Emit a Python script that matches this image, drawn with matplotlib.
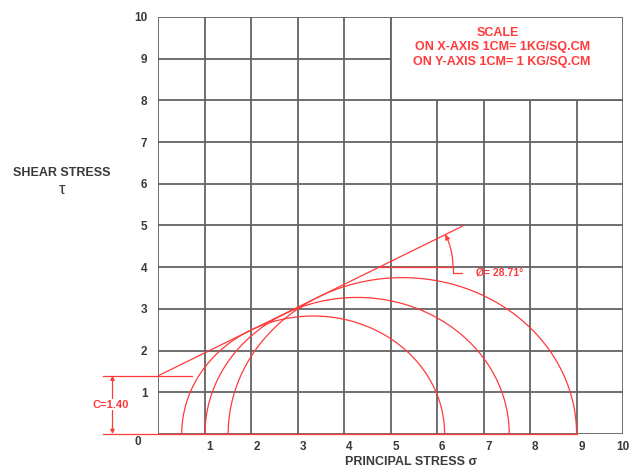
import numpy as np
import matplotlib
matplotlib.use('Agg')
import matplotlib.pyplot as plt
from matplotlib.patches import Rectangle
import matplotlib.transforms as mtrans

plt.rcParams['font.family'] = ['Liberation Sans', 'DejaVu Sans']

# Mohr circle data
sigma3 = [0.5, 1.0, 1.5]      # minor principal stress
sigma1 = [6.16, 7.55, 9.0]    # major principal stress
c = 1.40                      # cohesion
phi = 28.71                   # angle of shearing resistance (deg)
x_ticks = list(range(1, 11))
y_ticks = list(range(1, 11))

red = '#ff3a3a'
grey = '#636363'
txt = '#3a3a3a'

fig = plt.figure(figsize=(6.36, 4.69), dpi=100)
ax = fig.add_axes([0.2492, 0.0746, 0.7304, 0.8892])
ax.set_xlim(0, 10)
ax.set_ylim(0, 10)

# grid
for v in range(0, 11):
    ax.axvline(v, color=grey, lw=1.3, zorder=1)
    ax.axhline(v, color=grey, lw=1.3, zorder=1)
for s in ax.spines.values():
    s.set_visible(False)

# tick labels
ax.set_xticks(x_ticks)
ax.set_yticks(y_ticks)
ax.set_xticklabels([str(t) for t in x_ticks], fontsize=8.5, fontweight='bold', color=txt)
ax.set_yticklabels([str(t) for t in y_ticks], fontsize=8.5, fontweight='bold', color=txt)
ax.tick_params(length=0, pad=5)
ax.tick_params(axis='y', pad=8)
off = mtrans.ScaledTranslation(5 / 100, 0, fig.dpi_scale_trans)
for lab in ax.get_xticklabels()[:-1]:
    lab.set_transform(lab.get_transform() + off)
ax.text(-0.45, -0.2, '0', fontsize=8.5, fontweight='bold', color=txt,
        ha='center', va='center', clip_on=False)

# Mohr circles
t = np.linspace(0, np.pi, 300)
for s3, s1 in zip(sigma3, sigma1):
    cen = (s1 + s3) / 2
    rad = (s1 - s3) / 2
    ax.plot(cen + rad * np.cos(t), rad * np.sin(t), color=red, lw=0.9, zorder=3)

# failure envelope
tanp = np.tan(np.radians(phi))
xe = np.array([0, 6.55])
ax.plot(xe, c + tanp * xe, color=red, lw=0.9, zorder=3)

# angle marker
x0 = (4 - c) / tanp
ax.plot([x0, 6.34], [4, 4], color=red, lw=0.9, zorder=3)
r_px = 74.0
sx = ax.transData.transform((1, 0))[0] - ax.transData.transform((0, 0))[0]
sy = ax.transData.transform((0, 1))[1] - ax.transData.transform((0, 0))[1]
ang = np.arctan2(tanp * sy, sx)
a = np.linspace(0, ang, 50)
ax_x = x0 + r_px * np.cos(a) / sx
ax_y = 4 + r_px * np.sin(a) / sy
ax.plot(ax_x, ax_y, color=red, lw=0.9, zorder=3)
ax.annotate('', xy=(ax_x[-1], ax_y[-1]), xytext=(ax_x[-8], ax_y[-8]),
            arrowprops=dict(arrowstyle='-|>', color=red, lw=0.9,
                            mutation_scale=7, shrinkA=0, shrinkB=0), zorder=4)
ax.plot([ax_x[0], ax_x[0], ax_x[0] + 0.2], [4, 3.85, 3.85], color=red, lw=0.9, zorder=3)
ax.text(6.84, 3.87, 'Ø= %.2f°' % phi, fontsize=7.5, fontweight='bold', color=red,
        ha='left', va='center')

# cohesion marker
ax.plot([-1.19, 0.73], [c, c], color=red, lw=0.9, zorder=3, clip_on=False)
ax.plot([-1.19, 9.0], [0, 0], color=red, lw=0.9, zorder=3, clip_on=False)
ax.annotate('', xy=(-0.99, c), xytext=(-0.99, 0),
            arrowprops=dict(arrowstyle='<|-|>', color=red, lw=0.9,
                            mutation_scale=6, shrinkA=0, shrinkB=0),
            annotation_clip=False)
ax.text(-1.02, c / 2, 'C=%.2f' % c, fontsize=8, fontweight='bold', color=red,
        ha='center', va='center', clip_on=False,
        bbox=dict(facecolor='white', edgecolor='none', pad=0.5))

# scale box
ax.add_patch(Rectangle((5, 8), 5, 2, facecolor='white', edgecolor=grey, lw=1.3, zorder=5))
ax.text(7.3, 9.62, 'SCALE', fontsize=9, fontweight='bold', color=red, ha='center', va='center', zorder=6)
for yy, s in [(9.27, 'ON X-AXIS 1CM= 1KG/SQ.CM'), (8.91, 'ON Y-AXIS 1CM= 1 KG/SQ.CM')]:
    ax.text(7.4, yy, s, fontsize=9, fontweight='bold', color=red, ha='center', va='center', zorder=6)

# axis titles
fig.text(62 / 636, 1 - 173 / 469, 'SHEAR STRESS', fontsize=9, fontweight='bold', color=txt, ha='center', va='center')
fig.text(62 / 636, 1 - 190 / 469, 'τ', fontsize=12, color=txt, ha='center', va='center')
fig.text(411 / 636, 1 - 462 / 469, 'PRINCIPAL STRESS σ', fontsize=9, fontweight='bold', color=txt, ha='center', va='center')

fig.savefig('out.png', dpi=100)
